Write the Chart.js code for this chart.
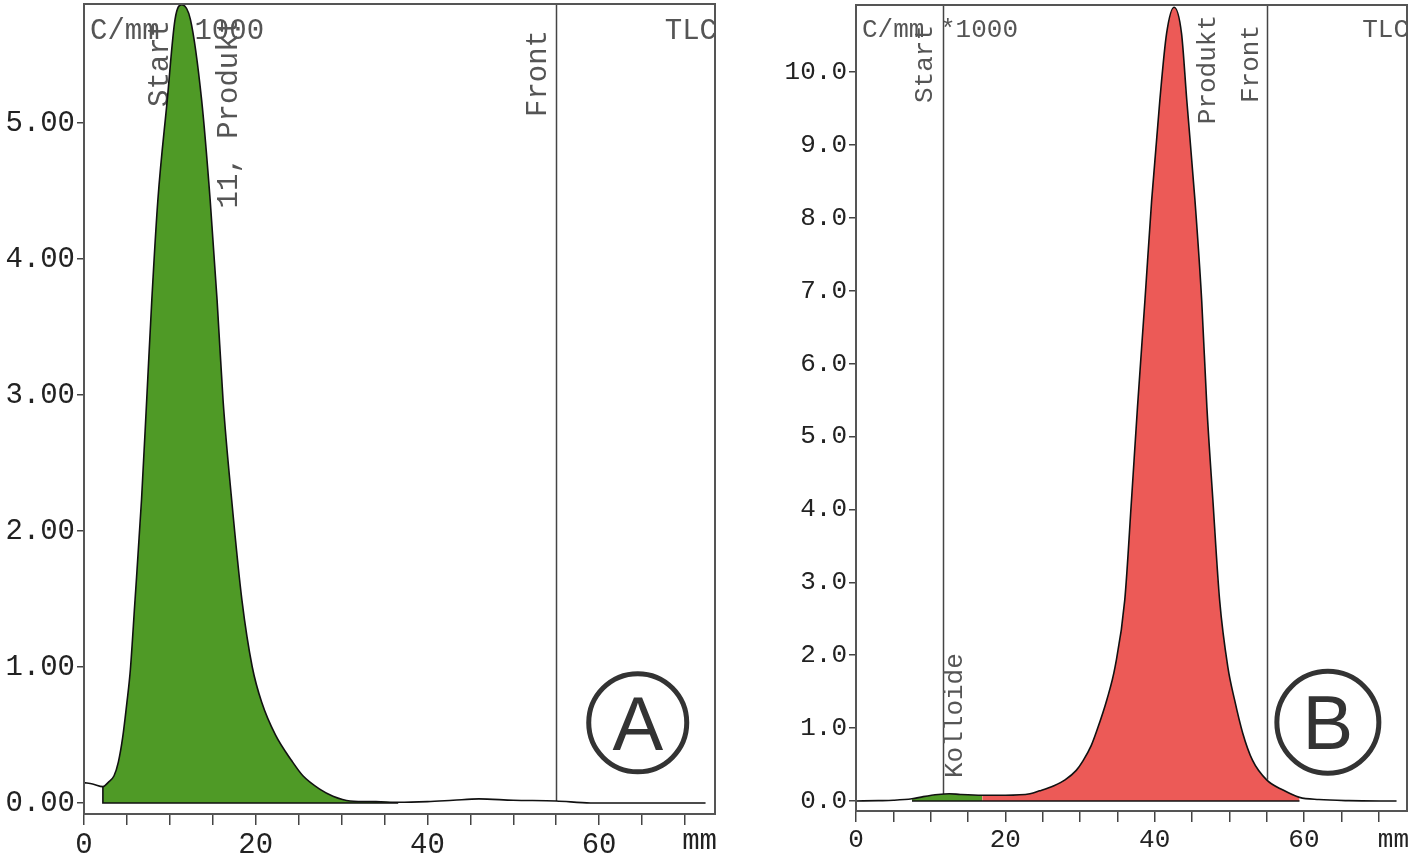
<!DOCTYPE html>
<html>
<head>
<meta charset="utf-8">
<script src="https://cdn.jsdelivr.net/npm/chart.js@4/dist/chart.umd.min.js"></script>
<style>
  html, body { margin: 0; padding: 0; background: #fff; }
  #wrapA { position: absolute; left: 0; top: 0; width: 780px; height: 858px; }
  #wrapB { position: absolute; left: 780px; top: 0; width: 636px; height: 858px; }
</style>
</head>
<body>
<div id="wrapA"><canvas id="chartA" width="780" height="858"></canvas></div>
<div id="wrapB"><canvas id="chartB" width="636" height="858"></canvas></div>
<script>
// ---------- Panel A data (x in mm, y in C/mm *1000) ----------
const xA = [0, 1, 2.2, 2.8, 3.5, 4.0, 4.5, 5.0, 5.4, 5.9, 6.7, 7.3, 7.9, 8.6, 9.7, 10.6, 11.4, 12.4, 13.7, 14.7, 15.5, 16.2, 17.2, 18.4, 19.6, 20.7, 22.3, 24.2, 25.5, 27.5, 29, 31, 34, 36.6, 40, 43, 46, 50, 55, 59, 65, 72.4];
const yA = [0.15, 0.14, 0.12, 0.15, 0.2, 0.3, 0.48, 0.74, 0.98, 1.45, 2.23, 2.96, 3.70, 4.43, 5.17, 5.76, 5.87, 5.76, 5.17, 4.43, 3.70, 2.96, 2.23, 1.49, 1.0, 0.74, 0.50, 0.31, 0.20, 0.10, 0.05, 0.015, 0.01, 0.005, 0.01, 0.02, 0.03, 0.02, 0.015, 0.0, 0.0, 0.0];
const fillRangeA = [2.2, 36.6];
const markerLinesA = [55];
const labelsA = ['Start', '11, Produkt', 'Front'];
const labelPosA = [8.9, 16.9, 52.9];
const yTicksA = [0, 1, 2, 3, 4, 5];

// ---------- Panel B data ----------
const xB = [0, 3, 5, 7.5, 9, 11, 12.5, 14, 16.9, 20, 23.3, 24.6, 26.5, 28.0, 29.5, 30.4, 31.5, 32.2, 33.6, 34.7, 36.0, 36.9, 37.7, 38.7, 39.6, 40.7, 41.6, 42.6, 43.6, 44.3, 45.4, 46.3, 47.0, 47.8, 48.7, 49.8, 50.7, 51.8, 53.1, 55.0, 57.2, 59.4, 62, 66, 72.4];
const yB = [0.0, 0.005, 0.01, 0.03, 0.06, 0.09, 0.1, 0.09, 0.08, 0.08, 0.1, 0.14, 0.21, 0.29, 0.42, 0.55, 0.76, 0.95, 1.39, 1.84, 2.76, 4.13, 5.4, 6.87, 8.24, 9.62, 10.53, 10.89, 10.53, 9.62, 8.24, 6.87, 5.4, 4.13, 2.76, 1.84, 1.39, 0.93, 0.56, 0.29, 0.15, 0.05, 0.02, 0.005, 0.0];
const greenRangeB = [7.5, 16.9];
const redRangeB = [16.9, 59.4];
const markerLinesB = [11.6, 55];
const labelsB = ['Start', 'Kolloide', 'Produkt', 'Front'];
const labelPosB = [9.2, 13.3, 47.1, 52.9];
const yTicksB = [0, 1, 2, 3, 4, 5, 6, 7, 8, 9, 10];

const xTicks = [0, 5, 10, 15, 20, 25, 30, 35, 40, 45, 50, 55, 60, 65, 70];
const xTickLabels = [0, 20, 40, 60];

const GREEN = '#4f9a26';
const RED = '#ec5a57';
const MONO = "'Liberation Mono', 'DejaVu Sans Mono', monospace";

function pts(xs, ys) { return xs.map((x, i) => ({ x: x, y: ys[i] })); }
function subset(p, a, b) { return p.filter(q => q.x >= a - 1e-9 && q.x <= b + 1e-9); }
function valAt(xs, ys, x) {
  for (let i = 0; i < xs.length - 1; i++) {
    if (x >= xs[i] && x <= xs[i + 1]) {
      const t = (x - xs[i]) / (xs[i + 1] - xs[i]);
      return ys[i] + t * (ys[i + 1] - ys[i]);
    }
  }
  return 0;
}

function makeChart(canvasId, o) {
  const curve = pts(o.xs, o.ys);
  const datasets = [
    { data: curve, borderColor: '#111', borderWidth: 1.6, pointRadius: 0, fill: false, cubicInterpolationMode: 'monotone' },
    { data: o.baseline, borderColor: '#111', borderWidth: 1.6, pointRadius: 0, fill: false, tension: 0 }
  ];
  o.fills.forEach(f => {
    datasets.push({ data: subset(curve, f.range[0], f.range[1]), borderWidth: 0, borderColor: 'rgba(0,0,0,0)', backgroundColor: f.color, pointRadius: 0, fill: 'origin', cubicInterpolationMode: 'monotone' });
  });

  const annot = {
    id: 'annot_' + canvasId,
    beforeDatasetsDraw(chart) {
      const ctx = chart.ctx, a = chart.chartArea, sx = chart.scales.x, sy = chart.scales.y;
      ctx.save();
      ctx.fillStyle = '#555';
      ctx.font = o.labelFont + 'px ' + MONO;
      ctx.textBaseline = 'alphabetic';
      ctx.textAlign = 'left';
      ctx.fillText('C/mm *1000', a.left + o.headerDx, o.headerY);
      ctx.textAlign = 'right';
      ctx.fillText('TLC', a.right + 2, o.headerY);
      // marker lines
      ctx.strokeStyle = '#444';
      ctx.lineWidth = 1.5;
      o.lines.forEach(x => {
        const px = Math.round(sx.getPixelForValue(x)) + 0.5;
        ctx.beginPath();
        ctx.moveTo(px, a.top);
        ctx.lineTo(px, sy.getPixelForValue(valAt(o.xs, o.ys, x)));
        ctx.stroke();
      });
      // rotated labels
      o.labels.forEach((t, i) => {
        const px = sx.getPixelForValue(o.labelPos[i]);
        ctx.save();
        ctx.translate(px, o.labelTop[i]);
        ctx.rotate(-Math.PI / 2);
        ctx.textAlign = o.labelAlign[i];
        ctx.textBaseline = 'middle';
        ctx.fillText(t, 0, 0);
        ctx.restore();
      });
      ctx.restore();
    },
    afterDraw(chart) {
      const ctx = chart.ctx, a = chart.chartArea, sx = chart.scales.x, sy = chart.scales.y;
      ctx.save();
      ctx.strokeStyle = '#555';
      ctx.lineWidth = 2;
      ctx.strokeRect(a.left, a.top, a.right - a.left, a.bottom - a.top);
      ctx.fillStyle = '#222';
      ctx.font = o.tickFont + 'px ' + MONO;
      ctx.textAlign = 'right';
      ctx.textBaseline = 'alphabetic';
      ctx.fillText('mm', a.right + 2, o.mmY);
      // circled letter
      const cx = sx.getPixelForValue(o.circle.x), cy = sy.getPixelForValue(o.circle.y);
      ctx.strokeStyle = '#333';
      ctx.lineWidth = 5;
      ctx.beginPath();
      ctx.arc(cx, cy, o.circle.r, 0, Math.PI * 2);
      ctx.stroke();
      ctx.fillStyle = '#333';
      ctx.font = '76px "Liberation Sans", Arial, sans-serif';
      ctx.textAlign = 'center';
      ctx.fillText(o.circle.letter, cx, cy + 27);
      ctx.restore();
    }
  };

  return new Chart(document.getElementById(canvasId), {
    type: 'line',
    data: { datasets: datasets },
    plugins: [annot],
    options: {
      responsive: false,
      animation: false,
      devicePixelRatio: 1,
      layout: { padding: o.padding },
      plugins: { legend: { display: false }, tooltip: { enabled: false } },
      scales: {
        x: {
          type: 'linear', min: 0, max: o.xMax,
          afterBuildTicks: s => { s.ticks = xTicks.map(v => ({ value: v })); },
          afterFit: s => { s.height = o.xAxisHeight; s.paddingLeft = 0; s.paddingRight = 0; },
          ticks: { autoSkip: false, maxRotation: 0, padding: 3, color: '#222', font: { family: MONO, size: o.tickFont },
                   callback: v => xTickLabels.includes(v) ? String(v) : '' },
          grid: { drawOnChartArea: false, drawTicks: true, tickLength: 11, color: '#444', lineWidth: 1.5 },
          border: { display: false }
        },
        y: {
          type: 'linear', min: o.yMin, max: o.yMax,
          afterBuildTicks: s => { s.ticks = o.yTicks.map(v => ({ value: v })); },
          afterFit: s => { s.width = o.yAxisWidth; s.paddingTop = 0; s.paddingBottom = 0; },
          ticks: { padding: 2, color: '#222', font: { family: MONO, size: o.tickFont },
                   callback: v => v.toFixed(o.decimals) },
          grid: { drawOnChartArea: false, drawTicks: true, tickLength: 7, color: '#444', lineWidth: 1.5 },
          border: { display: false }
        }
      }
    }
  });
}

makeChart('chartA', {
  xs: xA, ys: yA,
  baseline: [{ x: fillRangeA[0], y: valAt(xA, yA, fillRangeA[0]) }, { x: fillRangeA[0], y: 0 }, { x: fillRangeA[1], y: 0 }],
  fills: [{ range: fillRangeA, color: GREEN }],
  lines: markerLinesA,
  labels: labelsA, labelPos: labelPosA, labelTop: [20, 17, 30], labelAlign: ['right', 'right', 'right'],
  labelFont: 29, tickFont: 29, headerDx: 6, headerY: 39, mmY: 849,
  circle: { x: 64.5, y: 0.59, r: 49, letter: 'A' },
  xMax: 73.5, yMin: -0.081, yMax: 5.875, yTicks: yTicksA, decimals: 2,
  padding: { left: 0, top: 4, right: 65, bottom: 0 },
  xAxisHeight: 44, yAxisWidth: 84
});

makeChart('chartB', {
  xs: xB, ys: yB,
  baseline: [{ x: greenRangeB[0], y: 0 }, { x: redRangeB[1], y: 0 }],
  fills: [{ range: greenRangeB, color: GREEN }, { range: redRangeB, color: RED }],
  lines: markerLinesB,
  labels: labelsB, labelPos: labelPosB, labelTop: [25, 778, 15, 25], labelAlign: ['right', 'left', 'right', 'right'],
  labelFont: 26, tickFont: 26, headerDx: 6, headerY: 37, mmY: 847,
  circle: { x: 63.2, y: 1.08, r: 51, letter: 'B' },
  xMax: 73.8, yMin: -0.137, yMax: 10.92, yTicks: yTicksB, decimals: 1,
  padding: { left: 0, top: 5, right: 9, bottom: 0 },
  xAxisHeight: 47, yAxisWidth: 76
});
</script>
</body>
</html>
